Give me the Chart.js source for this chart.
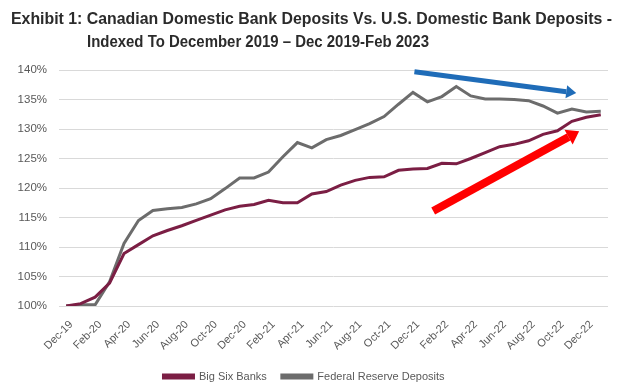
<!DOCTYPE html>
<html>
<head>
<meta charset="utf-8">
<script src="https://cdn.jsdelivr.net/npm/chart.js@4"></script>
<style>
  body { margin: 0; background: #fff; }
  #wrap { position: relative; width: 635px; height: 392px; }
  #title {
    position: absolute; left: 0; top: 7px; width: 635px;
    font-family: "Liberation Sans", Arial, sans-serif;
    font-weight: bold; font-size: 16px; line-height: 23px; color: #2b2b2b;
  }
  #title div { white-space: nowrap; }
  #title span { display: inline-block; transform-origin: 0 50%; }
  canvas { position: absolute; left: 0; top: 0; }
</style>
</head>
<body>
<div id="wrap">
  <canvas id="chart" width="635" height="392"></canvas>
  <div id="title">
    <div><span id="t1">Exhibit 1: Canadian Domestic Bank Deposits Vs. U.S. Domestic Bank Deposits -</span></div>
    <div><span id="t2">Indexed To December 2019 – Dec 2019-Feb 2023</span></div>
  </div>
</div>
<script>
// meses (Dec-19 .. Jan-23)
const months = ['Dec-19', 'Jan-20', 'Feb-20', 'Mar-20', 'Apr-20', 'May-20', 'Jun-20', 'Jul-20', 'Aug-20', 'Sep-20',
    'Oct-20', 'Nov-20', 'Dec-20', 'Jan-21', 'Feb-21', 'Mar-21', 'Apr-21', 'May-21', 'Jun-21', 'Jul-21',
    'Aug-21', 'Sep-21', 'Oct-21', 'Nov-21', 'Dec-21', 'Jan-22', 'Feb-22', 'Mar-22', 'Apr-22', 'May-22',
    'Jun-22', 'Jul-22', 'Aug-22', 'Sep-22', 'Oct-22', 'Nov-22', 'Dec-22', 'Jan-23'];

// indexed deposits, Dec 2019 = 100
const bigSixBanks = [100.0, 100.4, 101.5, 103.9, 108.9, 110.4, 111.9, 112.8, 113.6, 114.5,
    115.4, 116.3, 116.9, 117.2, 117.9, 117.5, 117.5, 119.0, 119.4, 120.5,
    121.3, 121.8, 121.9, 123.0, 123.2, 123.3, 124.2, 124.1, 125.0, 126.0,
    127.0, 127.4, 128.0, 129.1, 129.7, 131.3, 132.0, 132.4];

const federalReserve = [100.0, 100.2, 100.2, 104.1, 110.6, 114.5, 116.2, 116.5, 116.7, 117.3,
    118.2, 119.9, 121.7, 121.7, 122.7, 125.3, 127.7, 126.8, 128.2, 128.9,
    129.9, 130.9, 132.1, 134.2, 136.2, 134.6, 135.5, 137.2, 135.6, 135.1,
    135.1, 135.0, 134.8, 133.9, 132.7, 133.4, 132.9, 133.0];

const yTicks = [100, 105, 110, 115, 120, 125, 130, 135, 140];

// flechas de anotacion: [indice de mes, valor]
const blueArrow = [[24.1, 139.7], [35.3, 136.1]];
const redArrow = [[25.4, 116.1], [35.5, 129.6]];

const textColor = '#595959';
const tickFont = { family: '"Liberation Sans", Arial, sans-serif', size: 11 };

// ajustar el titulo al ancho del original (fuente estrecha)
function fitTitle(id, left, width) {
    const el = document.getElementById(id);
    const w = el.getBoundingClientRect().width;
    el.style.marginLeft = left + 'px';
    el.style.transform = 'scaleX(' + (width / w) + ')';
}
fitTitle('t1', 11, 601);
fitTitle('t2', 87, 342);

function drawArrow(ctx, x1, y1, x2, y2, color, width, headLen, headWidth) {
    const ang = Math.atan2(y2 - y1, x2 - x1);
    const bx = x2 - headLen * Math.cos(ang);
    const by = y2 - headLen * Math.sin(ang);
    ctx.save();
    ctx.strokeStyle = color;
    ctx.fillStyle = color;
    ctx.lineWidth = width;
    ctx.beginPath();
    ctx.moveTo(x1, y1);
    ctx.lineTo(bx, by);
    ctx.stroke();
    ctx.beginPath();
    ctx.moveTo(x2, y2);
    ctx.lineTo(bx + headWidth / 2 * Math.sin(ang), by - headWidth / 2 * Math.cos(ang));
    ctx.lineTo(bx - headWidth / 2 * Math.sin(ang), by + headWidth / 2 * Math.cos(ang));
    ctx.closePath();
    ctx.fill();
    ctx.restore();
}

const arrowsPlugin = {
    id: 'arrows',
    afterDatasetsDraw(chart) {
        const x = chart.scales.x, y = chart.scales.y, ctx = chart.ctx;
        const px = (p) => [x.getPixelForValue(p[0]), y.getPixelForValue(p[1])];
        let a = px(blueArrow[0]), b = px(blueArrow[1]);
        drawArrow(ctx, a[0], a[1], b[0], b[1], '#1f6cb8', 5, 10, 13);
        a = px(redArrow[0]); b = px(redArrow[1]);
        drawArrow(ctx, a[0], a[1], b[0], b[1], '#ff0000', 8, 12, 17);
    }
};

const ctx = document.getElementById('chart').getContext('2d');
const myChart = new Chart(ctx, {
    type: 'line',
    data: {
        labels: months,
        datasets: [{
            label: 'Big Six Banks',
            data: bigSixBanks,
            borderColor: '#7b1e44',
            backgroundColor: '#7b1e44',
            borderWidth: 3,
            pointRadius: 0,
            tension: 0
        }, {
            label: 'Federal Reserve Deposits',
            data: federalReserve,
            borderColor: '#6c6c6c',
            backgroundColor: '#6c6c6c',
            borderWidth: 3,
            pointRadius: 0,
            tension: 0
        }]
    },
    options: {
        responsive: false,
        animation: false,
        layout: { padding: { top: 70, left: 0, right: 27, bottom: 0 } },
        plugins: {
            legend: {
                position: 'bottom',
                labels: {
                    color: textColor,
                    font: { family: '"Liberation Sans", Arial, sans-serif', size: 11 },
                    boxWidth: 30,
                    boxHeight: 3,
                    padding: 15
                }
            },
            tooltip: { enabled: false }
        },
        scales: {
            x: {
                offset: true,
                grid: { display: false },
                border: { display: false },
                afterFit: (axis) => { axis.height = 50; axis.paddingLeft = 0; axis.paddingRight = 0; },
                ticks: {
                    color: textColor,
                    font: tickFont,
                    autoSkip: false,
                    minRotation: 45,
                    maxRotation: 45,
                    padding: 4,
                    labelOffset: 5,
                    callback: (v, i) => (i % 2 === 0 ? months[i] : '')
                }
            },
            y: {
                min: 100,
                max: 140,
                afterBuildTicks: (axis) => { axis.ticks = yTicks.map((v) => ({ value: v })); },
                afterFit: (axis) => { axis.width = 59; axis.paddingTop = 0; axis.paddingBottom = 0; },
                grid: { color: '#d9d9d9', lineWidth: 1, drawTicks: false },
                border: { display: false },
                ticks: {
                    color: textColor,
                    font: { family: '"Liberation Sans", Arial, sans-serif', size: 11.5 },
                    padding: 12,
                    callback: (v) => v + '%'
                }
            }
        }
    },
    plugins: [arrowsPlugin]
});
</script>
</body>
</html>
